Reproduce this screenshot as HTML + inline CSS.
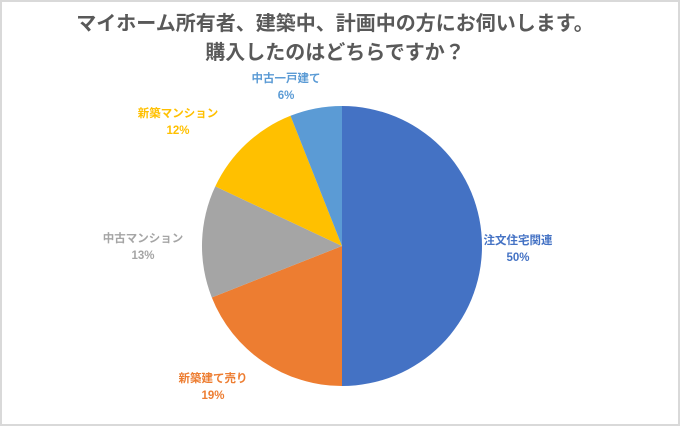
<!DOCTYPE html>
<html><head><meta charset="utf-8"><style>
body{margin:0;background:#fff}
svg{display:block}
text{font-family:"Liberation Sans","Noto Sans CJK JP",sans-serif;font-weight:bold}
</style></head><body>
<svg width="680" height="426" viewBox="0 0 680 426">
<rect x="1" y="1" width="678" height="424" fill="#fff" stroke="#d9d9d9" stroke-width="2"/>
<text x="335" y="30" text-anchor="middle" font-size="20" fill="#595959">マイホーム所有者、建築中、計画中の方にお伺いします。</text>
<text x="335" y="59" text-anchor="middle" font-size="20" fill="#595959">購入したのはどちらですか？</text>
<path d="M342,246 L342,106 A140,140 0 0,1 342,386 Z" fill="#4472C4"/>
<path d="M342,246 L342,386 A140,140 0 0,1 211.8,297.5 Z" fill="#ED7D31"/>
<path d="M342,246 L211.8,297.5 A140,140 0 0,1 215.3,186.4 Z" fill="#A5A5A5"/>
<path d="M342,246 L215.3,186.4 A140,140 0 0,1 290.5,115.8 Z" fill="#FFC000"/>
<path d="M342,246 L290.5,115.8 A140,140 0 0,1 342,106 Z" fill="#5B9BD5"/>
<g font-size="11.5" text-anchor="middle">
<text x="518" y="244" fill="#4472C4">注文住宅関連</text>
<text x="518" y="261" fill="#4472C4">50%</text>
<text x="213" y="382" fill="#ED7D31">新築建て売り</text>
<text x="213" y="399" fill="#ED7D31">19%</text>
<text x="143" y="242" fill="#A5A5A5">中古マンション</text>
<text x="143" y="259" fill="#A5A5A5">13%</text>
<text x="178" y="117" fill="#FFC000">新築マンション</text>
<text x="178" y="134" fill="#FFC000">12%</text>
<text x="286" y="82" fill="#5B9BD5">中古一戸建て</text>
<text x="286" y="99" fill="#5B9BD5">6%</text>
</g>
</svg>
</body></html>
